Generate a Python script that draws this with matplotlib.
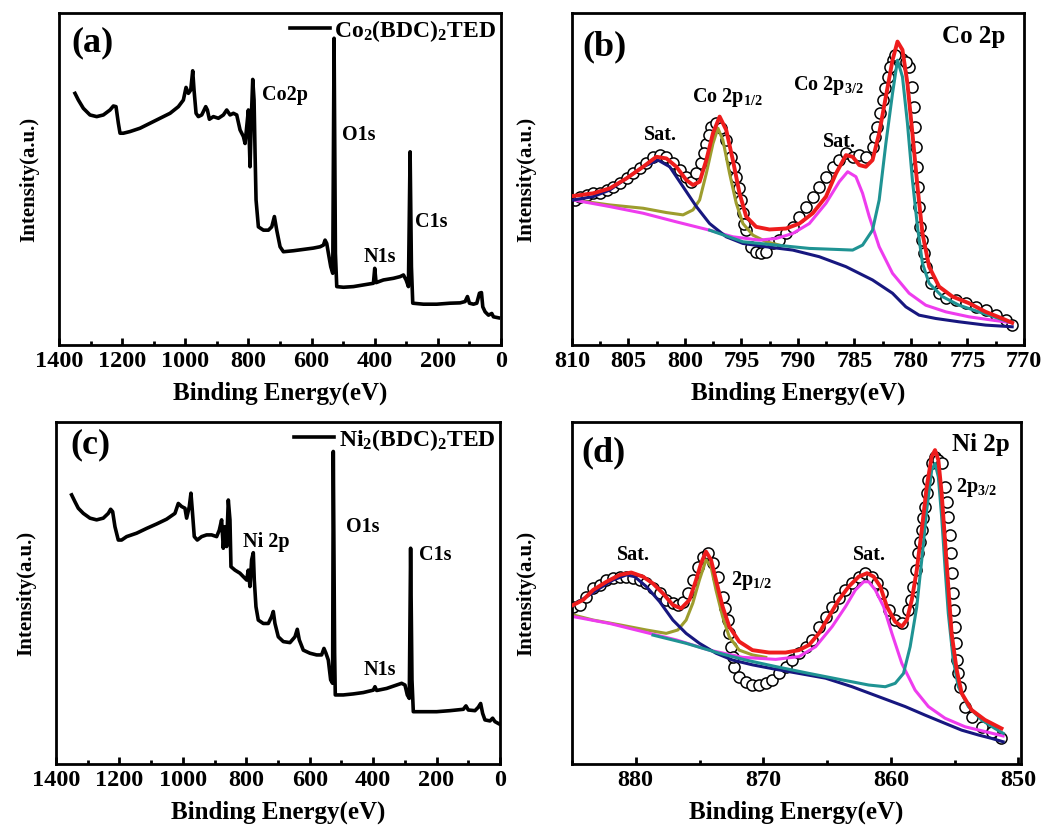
import matplotlib
matplotlib.use("Agg")
import matplotlib.pyplot as plt
from matplotlib.ticker import MultipleLocator

plt.rcParams['font.family'] = 'Liberation Serif'
plt.rcParams['font.weight'] = 'bold'
plt.rcParams['axes.labelweight'] = 'bold'
plt.rcParams['mathtext.fontset'] = 'custom'
plt.rcParams['mathtext.rm'] = 'Liberation Serif:bold'
plt.rcParams['mathtext.default'] = 'regular'

# ---- (a) survey, Co2(BDC)2TED ----
co_survey_e = [1349.3, 1338.7, 1322.9, 1301.8, 1280.6, 1259.5, 1238.4, 1227.8, 1219.4, 1212.0,
               1206.7, 1196.2, 1175.0, 1143.4, 1111.7, 1080.0, 1048.3, 1021.9, 1006.1, 997.6,
               990.2, 982.8, 976.5, 972.3, 965.9, 958.6, 948.0, 935.3, 930.0, 923.7,
               911.0, 895.2, 879.4, 868.8, 858.2, 847.7, 837.1, 826.6, 816.0, 810.7,
               805.4, 800.2, 794.9, 790.7, 786.4, 782.2, 779.0, 775.9, 768.5, 752.6,
               736.8, 726.2, 717.8, 710.4, 699.8, 689.3, 657.6, 625.9, 594.2, 573.1,
               562.6, 557.3, 552.0, 546.7, 539.3, 533.0, 528.8, 524.5, 520.3, 499.2,
               467.5, 435.8, 404.2, 400.0, 395.7, 372.5, 340.8, 319.7, 309.1, 300.7,
               293.3, 288.0, 283.8, 279.6, 245.8, 203.5, 161.3, 129.6, 113.8, 106.4,
               100.0, 87.4, 76.8, 68.4, 62.0, 57.8, 50.4, 39.8, 29.3, 24.0, 8.2]
co_survey_i = [75.8, 73.8, 71.3, 69.3, 68.8, 69.3, 70.8, 72.0, 71.8, 66.8,
               63.8, 63.8, 64.3, 65.3, 66.8, 68.3, 69.8, 71.8, 73.8, 77.6,
               75.8, 76.8, 82.6, 76.8, 69.8, 68.8, 69.3, 71.8, 70.8, 68.0,
               68.8, 68.3, 69.3, 70.8, 69.3, 69.8, 69.3, 64.8, 62.8, 60.7,
               65.8, 70.8, 53.7, 68.8, 80.0, 73.8, 57.7, 43.7, 35.6, 34.6,
               34.6, 35.6, 38.7, 34.6, 29.6, 28.1, 28.4, 28.8, 29.2, 29.6,
               30.1, 31.6, 30.6, 27.6, 23.6, 21.6, 92.4, 27.6, 17.6, 17.4,
               17.6, 18.1, 18.6, 23.1, 18.8, 19.6, 20.1, 20.6, 21.1, 19.6,
               17.6, 58.2, 23.6, 12.6, 12.3, 12.3, 12.6, 12.7, 13.1, 14.6,
               12.6, 12.3, 12.6, 15.6, 15.8, 11.5, 10.0, 9.0, 9.5, 8.5, 8.2]

# ---- (c) survey, Ni2(BDC)2TED ----
ni_survey_e = [1350.6, 1340.1, 1329.6, 1313.8, 1292.8, 1271.8, 1250.8, 1235.0, 1227.6, 1221.3,
               1214.0, 1203.5, 1193.0, 1177.2, 1145.7, 1114.1, 1082.6, 1051.1, 1024.8, 1014.3,
               1003.8, 993.3, 988.0, 979.6, 974.4, 970.2, 963.9, 954.4, 940.7, 925.0,
               909.2, 893.4, 885.0, 877.7, 872.4, 867.2, 861.9, 856.6, 851.4, 848.2,
               835.6, 819.9, 809.4, 798.8, 793.6, 788.3, 783.1, 777.8, 774.7, 769.4,
               762.1, 746.3, 730.5, 720.0, 714.8, 709.5, 699.0, 683.2, 662.2, 646.4,
               639.1, 632.8, 620.2, 599.2, 578.1, 562.4, 555.0, 548.7, 541.3, 533.9,
               527.7, 525.6, 521.4, 519.3, 494.1, 462.5, 431.0, 399.5, 394.2, 388.9,
               357.4, 325.9, 310.1, 299.6, 292.3, 286.0, 281.8, 277.5, 273.3, 241.8,
               199.8, 157.8, 115.7, 107.3, 99.9, 78.9, 68.4, 61.0, 54.7, 47.4,
               31.6, 23.2, 15.9, 2.2]
ni_survey_i = [78.7, 76.7, 74.8, 73.3, 71.9, 71.4, 71.9, 73.3, 74.5, 73.8,
               69.4, 65.5, 65.5, 66.5, 67.5, 68.9, 70.2, 71.6, 73.3, 76.2,
               75.3, 74.8, 71.9, 75.3, 79.2, 74.3, 66.5, 65.5, 66.5, 67.0,
               67.0, 66.5, 68.4, 71.4, 63.1, 69.4, 63.6, 77.2, 71.4, 57.7,
               56.7, 55.8, 54.8, 53.8, 56.7, 51.9, 59.7, 61.8, 53.8, 46.0,
               42.1, 41.1, 41.1, 43.1, 44.6, 41.1, 37.2, 35.8, 35.5, 37.2,
               39.4, 36.3, 33.3, 32.4, 31.9, 31.9, 33.8, 32.4, 30.4, 24.6,
               23.6, 91.4, 32.4, 20.2, 20.2, 20.5, 20.9, 21.6, 22.6, 21.5,
               22.1, 23.1, 23.6, 23.1, 20.2, 19.2, 63.1, 24.6, 15.3, 15.3,
               15.3, 15.6, 16.0, 17.0, 15.8, 15.6, 16.6, 17.7, 14.8, 12.9,
               12.6, 13.4, 12.4, 11.7]

# ---- (b) Co 2p high resolution ----
co_raw_e = [809.74, 809.29, 808.71, 808.12, 807.53, 806.94, 806.35, 805.76, 805.17, 804.59,
            804.00, 803.41, 802.82, 802.23, 801.64, 801.05, 800.47, 799.88, 799.44, 798.99,
            798.55, 798.11, 797.67, 797.23, 796.79, 796.35, 795.90, 795.46, 795.02, 794.58,
            794.14, 793.70, 793.26, 792.81, 792.23, 791.64, 791.05, 790.46, 789.87, 789.28,
            788.69, 788.11, 787.52, 786.93, 786.34, 785.75, 785.16, 784.57, 783.99, 783.40,
            782.96, 782.51, 782.07, 781.63, 781.19, 780.75, 780.16, 779.87, 779.63, 779.45,
            779.28, 779.04, 778.69, 778.25, 777.51, 776.92, 776.04, 775.16, 774.27, 773.39,
            772.51, 771.62, 771.04,
            # extra points read on the steep flanks
            794.87, 794.73, 798.35, 797.91, 795.26, 795.70, 783.16, 782.75, 782.31, 781.87,
            781.40, 779.75, 779.54, 779.37, 779.16, 778.87, 780.45]
co_raw_i = [43.7, 44.7, 45.2, 45.7, 45.9, 46.7, 47.7, 48.9, 50.2, 51.7,
            53.2, 54.7, 56.7, 57.2, 56.7, 54.7, 52.7, 50.7, 49.2, 51.7,
            54.7, 60.7, 65.8, 66.8, 65.3, 61.7, 56.7, 50.7, 43.7, 34.6,
            29.6, 28.1, 27.6, 28.1, 30.6, 31.6, 33.6, 35.6, 38.7, 41.7,
            44.7, 47.7, 50.7, 53.7, 55.7, 57.7, 56.7, 57.2, 56.7, 59.7,
            65.8, 73.8, 80.8, 85.8, 86.8, 86.3, 83.8, 77.8, 65.8, 53.7,
            41.7, 31.6, 23.6, 18.6, 15.6, 14.1, 13.6, 12.6, 11.5, 10.5,
            9.0, 7.5, 6.0,
            39.7, 36.6, 57.7, 63.3, 47.2, 53.7, 62.7, 69.8, 77.3, 83.8,
            87.3, 71.8, 59.7, 47.7, 35.6, 27.6, 85.3]

co_fit_e = [809.88, 808.12, 806.65, 805.17, 803.70, 802.53, 801.64, 800.76, 799.88, 799.29,
            798.70, 798.11, 797.52, 796.93, 796.35, 795.76, 795.17, 794.58, 793.70, 792.52,
            791.05, 789.87, 788.69, 787.52, 786.63, 785.75, 785.16, 784.57, 783.99, 783.40,
            782.81, 782.22, 781.63, 781.19, 780.75, 780.31, 779.87, 779.42, 778.98, 778.39,
            777.51, 776.33, 774.86, 773.39, 771.92, 771.04]
co_fit_i = [44.9, 45.7, 47.2, 50.2, 53.7, 56.7, 56.2, 53.7, 49.7, 48.2,
            49.2, 55.7, 63.8, 68.8, 64.8, 55.7, 45.7, 38.7, 35.6, 34.8,
            35.1, 36.6, 39.7, 44.7, 51.7, 57.2, 56.7, 54.2, 53.7, 55.7,
            63.8, 74.8, 85.8, 91.4, 88.9, 78.8, 63.8, 47.7, 33.6, 23.6,
            17.6, 14.6, 12.6, 10.0, 8.0, 6.7]

co_p12_e = [809.88, 806.65, 803.70, 801.64, 800.17, 799.29, 798.70, 798.11, 797.52, 797.08,
            796.64, 796.05, 795.46, 794.87, 793.99, 792.81, 791.64]
co_p12_i = [43.7, 42.2, 41.2, 39.9, 39.2, 40.7, 43.7, 51.7, 60.7, 65.3,
            61.7, 51.7, 42.7, 36.6, 33.1, 31.1, 30.1]

co_sat1_e = [809.88, 808.12, 806.65, 805.17, 803.70, 802.38, 801.35, 800.17, 798.99, 797.82,
             796.35, 794.87, 792.81, 790.46, 788.11, 785.75, 783.40, 781.63, 780.45, 779.28,
             777.81, 775.75, 773.39, 771.04]
co_sat1_i = [43.7, 44.7, 46.7, 50.2, 53.7, 55.7, 53.7, 47.7, 41.7, 36.6,
             32.6, 30.6, 29.6, 28.6, 26.6, 23.6, 19.6, 15.6, 11.5, 9.0,
             8.0, 7.0, 6.0, 5.5]

co_sat2_e = [809.88, 806.65, 803.70, 800.76, 797.82, 795.76, 793.40, 791.93, 790.46, 788.99,
             787.52, 786.34, 785.60, 784.87, 784.28, 783.69, 782.81, 781.63, 780.16, 778.69,
             776.92, 774.86, 772.80, 771.04]
co_sat2_i = [43.7, 41.7, 39.7, 37.1, 34.6, 32.6, 31.6, 32.1, 33.6, 36.6,
             42.7, 49.2, 52.2, 50.7, 45.7, 38.7, 29.6, 21.6, 15.6, 12.0,
             10.0, 8.5, 7.5, 6.7]

co_p32_e = [797.82, 794.87, 791.93, 788.99, 786.63, 785.16, 784.28, 783.40, 782.81, 782.22,
            781.63, 781.19, 780.75, 780.31, 779.87, 779.42, 778.98, 778.39, 777.22, 775.75,
            773.98, 772.21, 771.04]
co_p32_i = [34.6, 31.1, 30.1, 29.1, 28.8, 28.6, 30.1, 34.6, 43.7, 60.7,
            75.8, 85.8, 80.8, 66.8, 49.7, 35.6, 24.6, 18.6, 14.6, 12.0,
            10.0, 8.0, 6.7]

# ---- (d) Ni 2p high resolution ----
ni_raw_e = [884.90, 884.38, 883.86, 883.34, 882.82, 882.30, 881.78, 881.26, 880.74, 880.22,
            879.70, 879.17, 878.65, 878.13, 877.61, 877.09, 876.70, 876.31, 875.92, 875.53,
            875.14, 874.75, 874.36, 873.97, 873.58, 873.19, 872.80, 872.54, 872.28, 871.89,
            871.37, 870.85, 870.33, 869.81, 869.29, 868.77, 868.25, 867.73, 867.21, 866.68,
            866.16, 865.64, 865.12, 864.60, 864.08, 863.56, 863.04, 862.52, 862.00, 861.48,
            861.09, 860.70, 860.18, 859.66, 859.14, 858.62, 858.23, 857.84, 857.58, 857.32,
            857.06, 856.80, 856.54, 856.28, 856.02, 855.76, 855.50, 855.29, 855.11, 854.97,
            854.84, 854.58, 854.19, 853.67, 852.89, 852.11, 851.33,
            # extra points read on the steep flanks
            872.67, 872.41, 872.98, 858.41, 858.04, 857.71, 857.45, 857.19, 855.63, 855.39,
            855.18, 855.03, 854.90, 854.71]
ni_raw_i = [46.0, 46.5, 48.9, 51.4, 52.4, 53.8, 54.3, 54.8, 54.8, 54.3,
            53.8, 52.8, 51.4, 49.9, 48.0, 47.0, 46.5, 47.5, 49.9, 53.8,
            57.7, 60.6, 61.6, 58.7, 54.8, 48.9, 42.1, 34.3, 28.5, 25.5,
            24.1, 23.1, 23.1, 23.6, 24.6, 26.5, 28.5, 30.4, 32.4, 34.3,
            36.3, 40.2, 43.1, 46.0, 48.5, 50.9, 52.8, 54.8, 55.8, 54.8,
            52.8, 49.9, 45.0, 42.1, 41.1, 45.0, 51.9, 61.6, 68.4, 75.3,
            83.1, 87.9, 89.9, 88.9, 87.9, 81.1, 72.3, 61.6, 49.9, 40.2,
            30.4, 22.6, 16.8, 13.8, 10.9, 9.5, 7.5,
            38.2, 31.4, 45.5, 48.0, 56.7, 65.0, 71.9, 79.2, 76.7, 67.0,
            55.8, 45.0, 35.3, 26.5]

ni_fit_e = [884.90, 884.12, 883.34, 882.30, 881.26, 880.35, 879.44, 878.65, 877.87, 877.09,
            876.44, 875.79, 875.27, 874.88, 874.49, 874.10, 873.71, 873.19, 872.67, 871.89,
            870.85, 869.55, 868.25, 867.21, 866.42, 865.64, 864.86, 864.08, 863.30, 862.52,
            861.87, 861.35, 860.83, 860.31, 859.66, 859.14, 858.75, 858.36, 857.97, 857.58,
            857.19, 856.80, 856.54, 856.28, 856.02, 855.76, 855.50, 855.24, 854.84, 854.45,
            853.67, 852.63, 851.33]
ni_fit_i = [46.5, 48.0, 50.9, 53.3, 55.3, 56.0, 54.8, 52.8, 49.9, 46.5,
            45.5, 48.0, 53.8, 58.7, 62.1, 59.7, 53.8, 46.0, 40.2, 35.8,
            33.3, 32.6, 32.6, 33.3, 34.8, 38.2, 43.1, 48.0, 51.9, 54.8,
            55.8, 54.8, 51.9, 46.0, 41.6, 40.2, 42.1, 48.0, 56.7, 68.4,
            81.1, 89.9, 91.8, 88.9, 79.2, 65.5, 51.9, 38.2, 27.5, 20.7,
            15.8, 12.9, 10.4]

ni_p12_e = [884.90, 883.34, 881.26, 879.17, 877.61, 876.70, 876.05, 875.53, 875.01, 874.49,
            874.10, 873.71, 873.19, 872.67, 871.89, 870.85, 869.81]
ni_p12_i = [43.6, 42.1, 40.7, 39.2, 38.2, 39.2, 42.1, 47.0, 53.8, 59.7,
            57.7, 50.9, 43.1, 37.2, 33.3, 31.9, 31.2]

ni_sat1_e = [884.90, 883.86, 882.82, 881.78, 880.74, 880.09, 879.17, 878.13, 877.09, 876.05,
             875.01, 873.71, 872.41, 870.85, 869.03, 867.21, 865.12, 863.04, 860.96, 858.88,
             857.32, 855.76, 854.45, 853.15, 852.11, 851.20]
ni_sat1_i = [46.5, 48.9, 51.4, 53.8, 55.3, 54.8, 51.9, 47.5, 42.1, 38.2,
             35.3, 32.4, 30.4, 29.0, 27.7, 26.5, 25.1, 22.6, 19.7, 16.8,
             14.3, 11.9, 9.9, 8.5, 7.5, 6.5]

ni_sat2_e = [884.90, 882.04, 879.44, 876.83, 874.23, 871.63, 869.03, 867.21, 865.90, 864.60,
             863.56, 862.78, 862.13, 861.74, 861.22, 860.57, 859.92, 859.14, 858.10, 857.06,
             855.76, 854.19, 852.63, 851.20]
ni_sat2_i = [43.1, 41.1, 38.7, 36.3, 33.3, 31.2, 30.6, 31.4, 34.3, 40.2,
             46.0, 50.9, 53.3, 53.3, 50.9, 46.0, 38.2, 29.4, 21.6, 16.8,
             13.4, 10.9, 9.5, 8.2]

ni_p32_e = [878.65, 876.05, 873.45, 871.37, 869.03, 866.42, 863.82, 861.74, 860.44, 859.66,
            859.01, 858.49, 857.97, 857.58, 857.19, 856.80, 856.54, 856.28, 856.02, 855.76,
            855.50, 855.11, 854.71, 853.93, 852.89, 851.85, 851.20]
ni_p32_i = [37.7, 35.3, 32.4, 30.4, 28.5, 26.5, 24.6, 23.1, 22.6, 23.6,
            26.5, 34.3, 46.0, 59.7, 74.3, 86.0, 87.9, 84.0, 72.3, 57.7,
            44.1, 30.4, 22.6, 16.8, 12.9, 10.4, 9.0]

RED = '#ee1c1c'
NAVY = '#17177f'
OLIVE = '#9d9d2e'
MAGENTA = '#ee3cee'
TEAL = '#1f9393'

fig = plt.figure(figsize=(10.46, 8.30), dpi=100)
ax_a = fig.add_axes([0.0564, 0.5843, 0.4226, 0.4000])
ax_b = fig.add_axes([0.5468, 0.5843, 0.4321, 0.4000])
ax_c = fig.add_axes([0.0535, 0.0795, 0.4245, 0.4120])
ax_d = fig.add_axes([0.5468, 0.0795, 0.4293, 0.4120])


def style_axes(ax, left, right, major, minor, ypad):
    ax.set_xlim(left, right)
    ax.set_ylim(0, 100)
    ax.xaxis.set_major_locator(MultipleLocator(major))
    ax.xaxis.set_minor_locator(MultipleLocator(minor))
    ax.tick_params(axis='x', which='major', direction='in', length=5, width=2,
                   labelsize=17.5, pad=4, top=False)
    ax.tick_params(axis='x', which='minor', direction='in', length=3, width=2, top=False)
    ax.set_yticks([])
    for s in ax.spines.values():
        s.set_linewidth(2)
    ax.set_xlabel('Binding Energy(eV)', fontsize=18, labelpad=7)
    ax.set_ylabel('Intensity(a.u.)', fontsize=15, labelpad=ypad)


# survey panels
ax_a.plot(co_survey_e, co_survey_i, color='black', lw=2.6, label=r'Co$_2$(BDC)$_2$TED')
style_axes(ax_a, 1400, 0, 200, 100, 14)
ax_a.legend(loc='upper right', frameon=False, fontsize=17, handlelength=1.7,
            handletextpad=0.2, borderaxespad=0.1, borderpad=0.1)
ax_a.text(0.029, 0.91, '(a)', transform=ax_a.transAxes, fontsize=26, va='center')
ax_a.text(757, 75.3, 'Co2p', fontsize=14.5, va='center')
ax_a.text(504, 63.3, 'O1s', fontsize=14.5, va='center')
ax_a.text(272, 37.0, 'C1s', fontsize=14.5, va='center')
ax_a.text(383, 26.5, 'N1s', fontsize=14.5, va='center', ha='center')

ax_c.plot(ni_survey_e, ni_survey_i, color='black', lw=2.6, label=r'Ni$_2$(BDC)$_2$TED')
style_axes(ax_c, 1400, 0, 200, 100, 14)
ax_c.legend(loc='upper right', frameon=False, fontsize=17, handlelength=1.7,
            handletextpad=0.2, borderaxespad=0.1, borderpad=0.1)
ax_c.text(0.032, 0.933, '(c)', transform=ax_c.transAxes, fontsize=26, va='center')
ax_c.text(810, 64.9, 'Ni 2p', fontsize=14.5, va='center')
ax_c.text(486, 69.3, 'O1s', fontsize=14.5, va='center')
ax_c.text(256, 61.1, 'C1s', fontsize=14.5, va='center')
ax_c.text(378, 27.5, 'N1s', fontsize=14.5, va='center', ha='center')

# high resolution panels: raw points, components, envelope
ax_b.plot(co_raw_e, co_raw_i, 'o', ms=8, mfc='white', mec='black', mew=1.1, zorder=1)
ax_b.plot(co_p12_e, co_p12_i, color=OLIVE, lw=2.2, zorder=2)
ax_b.plot(co_sat2_e, co_sat2_i, color=MAGENTA, lw=2.2, zorder=2)
ax_b.plot(co_sat1_e, co_sat1_i, color=NAVY, lw=2.2, zorder=3)
ax_b.plot(co_p32_e, co_p32_i, color=TEAL, lw=2.2, zorder=3)
ax_b.plot(co_fit_e, co_fit_i, color=RED, lw=2.8, zorder=4)
style_axes(ax_b, 810, 770, 5, 2.5, 26)
ax_b.text(0.022, 0.898, '(b)', transform=ax_b.transAxes, fontsize=26, va='center')
ax_b.text(0.958, 0.928, 'Co 2p', transform=ax_b.transAxes, fontsize=18, va='center', ha='right')
ax_b.text(802.2, 63.3, 'Sat.', fontsize=14.5, va='center', ha='center')
ax_b.text(799.4, 74.7, r'Co 2p$_{1/2}$', fontsize=14.5, va='center')
ax_b.text(790.4, 78.3, r'Co 2p$_{3/2}$', fontsize=14.5, va='center')
ax_b.text(786.3, 61.1, 'Sat.', fontsize=14.5, va='center', ha='center')

ax_d.plot(ni_raw_e, ni_raw_i, 'o', ms=8, mfc='white', mec='black', mew=1.1, zorder=1)
ax_d.plot(ni_p12_e, ni_p12_i, color=OLIVE, lw=2.2, zorder=2)
ax_d.plot(ni_sat2_e, ni_sat2_i, color=MAGENTA, lw=2.2, zorder=2)
ax_d.plot(ni_sat1_e, ni_sat1_i, color=NAVY, lw=2.2, zorder=3)
ax_d.plot(ni_p32_e, ni_p32_i, color=TEAL, lw=2.2, zorder=3)
ax_d.plot(ni_fit_e, ni_fit_i, color=RED, lw=2.8, zorder=4)
style_axes(ax_d, 885, 849.8, 10, 5, 26)
ax_d.text(0.022, 0.909, '(d)', transform=ax_d.transAxes, fontsize=26, va='center')
ax_d.text(0.975, 0.933, 'Ni 2p', transform=ax_d.transAxes, fontsize=18, va='center', ha='right')
ax_d.text(854.9, 81.0, r'2p$_{3/2}$', fontsize=14.5, va='center')
ax_d.text(880.2, 61.1, 'Sat.', fontsize=14.5, va='center', ha='center')
ax_d.text(872.5, 53.8, r'2p$_{1/2}$', fontsize=14.5, va='center')
ax_d.text(861.7, 61.1, 'Sat.', fontsize=14.5, va='center', ha='center')

fig.savefig('out.png', dpi=100)
